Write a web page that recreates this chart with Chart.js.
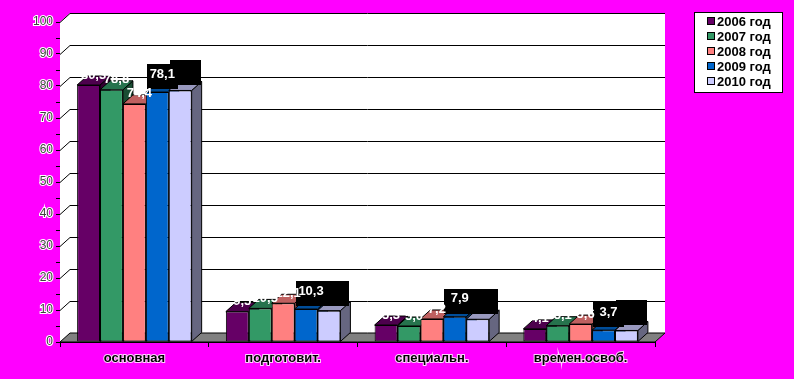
<!DOCTYPE html>
<html lang="ru">
  <head>
    <meta charset="utf-8">
    <title>Группы здоровья</title>
    <script src="https://cdn.jsdelivr.net/npm/chart.js@4.4.0/dist/chart.umd.min.js"></script>
    <style>
      body { margin: 0; background: #ff00ff; }
    </style>
  </head>
  <body>
    <canvas id="chart" width="794" height="379"></canvas>
    <script>
      const categories = ['основная', 'подготовит.', 'специальн.', 'времен.освоб.'];
      const years = ['2006 год', '2007 год', '2008 год', '2009 год', '2010 год'];
      const v2006 = [80.3, 9.5, 5.3, 4.1];
      const v2007 = [78.8, 10.5, 5.0, 5.1];
      const v2008 = [74.4, 12.1, 7.2, 5.6];
      const v2009 = [78.1, 10.3, 7.9, 3.7];
      const v2010 = [78.6, 9.8, 7.1, 3.6];
      const colors = ['#660066', '#339966', '#ff8080', '#0066cc', '#ccccff'];

      const DX = 10, DY = 9;
      const FONT = '"Liberation Sans", Arial, sans-serif';

      function shade(hex, k) {
        const n = parseInt(hex.slice(1), 16);
        const r = Math.round(((n >> 16) & 255) * k);
        const g = Math.round(((n >> 8) & 255) * k);
        const b = Math.round((n & 255) * k);
        return 'rgb(' + r + ',' + g + ',' + b + ')';
      }

      function poly(ctx, pts, fill, stroke) {
        ctx.beginPath();
        ctx.moveTo(pts[0][0], pts[0][1]);
        for (let i = 1; i < pts.length; i++) ctx.lineTo(pts[i][0], pts[i][1]);
        ctx.closePath();
        if (fill) { ctx.fillStyle = fill; ctx.fill(); }
        if (stroke) { ctx.strokeStyle = stroke; ctx.lineWidth = 1; ctx.stroke(); }
      }

      // walls, floor, grid and the side/top faces of the bars
      const scene = {
        id: 'scene',
        beforeDatasetsDraw(chart) {
          const ctx = chart.ctx;
          const a = chart.chartArea;
          const ys = chart.scales.y;
          const L = a.left, R = a.right, T = a.top, B = a.bottom;
          ctx.save();
          poly(ctx, [[L, B], [L, T], [L + DX, T - DY], [R + DX, T - DY], [R + DX, B - DY], [R, B]], '#ffffff');
          poly(ctx, [[L, B], [L + DX, B - DY], [R + DX, B - DY], [R, B]], '#808080', '#000000');
          ctx.strokeStyle = '#000';
          ctx.lineWidth = 1;
          for (let v = 10; v <= 100; v += 10) {
            const y = Math.round(ys.getPixelForValue(v)) + 0.5;
            ctx.beginPath();
            ctx.moveTo(L, y);
            ctx.lineTo(L + DX, y - DY);
            ctx.lineTo(R + DX, y - DY);
            ctx.stroke();
          }
          const n = chart.data.labels.length;
          for (let j = 0; j < n; j++) {
            chart.data.datasets.forEach((ds, i) => {
              const bar = chart.getDatasetMeta(i).data[j];
              const p = bar.getProps(['x', 'y', 'base', 'width'], true);
              const x1 = p.x - p.width / 2, x2 = p.x + p.width / 2;
              const col = ds.backgroundColor;
              poly(ctx, [[x2, p.y], [x2 + DX, p.y - DY], [x2 + DX, p.base - DY], [x2, p.base]], shade(col, 0.5), '#000');
              poly(ctx, [[x1, p.y], [x1 + DX, p.y - DY], [x2 + DX, p.y - DY], [x2, p.y]], shade(col, 0.75), '#000');
            });
          }
          ctx.restore();
        },
        afterDatasetsDraw(chart) {
          const ctx = chart.ctx;
          ctx.save();
          ctx.font = 'bold 13px ' + FONT;
          ctx.textAlign = 'center';
          ctx.textBaseline = 'middle';
          const texts = [];
          chart.data.datasets.forEach((ds, i) => {
            chart.getDatasetMeta(i).data.forEach((bar, j) => {
              const p = bar.getProps(['x', 'y'], true);
              const cx = p.x + DX / 2;
              const txt = ds.data[j].toFixed(1).replace('.', ',');
              if (i >= 3) {
                const top = p.y - (i === 3 ? 28 : 30);
                ctx.fillStyle = '#000';
                ctx.fillRect(Math.round(cx - 15.5), Math.round(top), 31, 25);
                texts.push([txt, cx, top + 10, i === 3 ? '#ffffff' : '#000000']);
              } else {
                texts.push([txt, cx, p.y - 10, '#ffffff']);
              }
            });
          });
          texts.forEach(t => {
            ctx.fillStyle = t[3];
            ctx.fillText(t[0], t[1], t[2]);
          });
          ctx.restore();
        },
        afterDraw(chart) {
          const ctx = chart.ctx;
          ctx.save();
          ctx.fillStyle = '#fff';
          ctx.fillRect(694, 12, 88, 80);
          ctx.strokeStyle = '#000';
          ctx.lineWidth = 1;
          ctx.strokeRect(694.5, 12.5, 88, 80);
          ctx.font = 'bold 13px ' + FONT;
          ctx.textBaseline = 'middle';
          ctx.textAlign = 'left';
          chart.data.datasets.forEach((ds, i) => {
            const y = 21 + i * 15;
            ctx.fillStyle = ds.backgroundColor;
            ctx.fillRect(707, y - 4, 8, 8);
            ctx.strokeRect(707.5, y - 3.5, 7, 7);
            ctx.fillStyle = '#000';
            ctx.fillText(ds.label, 717, y + 1);
          });
          ctx.restore();
        }
      };

      const series = [v2006, v2007, v2008, v2009, v2010];

      new Chart(document.getElementById('chart'), {
        type: 'bar',
        data: {
          labels: categories,
          datasets: series.map((vals, i) => ({
            label: years[i],
            data: vals,
            backgroundColor: colors[i],
            borderColor: '#000',
            borderWidth: 1,
            borderSkipped: false
          }))
        },
        options: {
          responsive: false,
          animation: false,
          events: [],
          categoryPercentage: 0.77,
          barPercentage: 1,
          layout: { padding: { top: 22, right: 139, left: 0, bottom: 0 } },
          plugins: { legend: { display: false }, tooltip: { enabled: false } },
          scales: {
            x: {
              afterFit(s) { s.height = 37; },
              border: { color: '#000', width: 1 },
              grid: { offset: true, drawOnChartArea: false, color: '#000', tickLength: 5 },
              ticks: {
                padding: 4,
                color: '#000',
                font: { family: FONT, size: 13, weight: 'bold' },
                textStrokeColor: 'rgba(255,255,255,0.8)',
                textStrokeWidth: 2
              }
            },
            y: {
              min: 0,
              max: 100,
              afterFit(s) { s.width = 60; },
              border: { color: '#000', width: 1 },
              grid: { drawOnChartArea: false, color: '#000', tickLength: 4 },
              ticks: {
                stepSize: 5,
                autoSkip: false,
                padding: 3,
                color: '#404040',
                font: { family: FONT, size: 12 },
                textStrokeColor: '#ffffff',
                textStrokeWidth: 2,
                callback: v => (v % 10 === 0 ? v : '')
              }
            }
          }
        },
        plugins: [scene]
      });
    </script>
  </body>
</html>
